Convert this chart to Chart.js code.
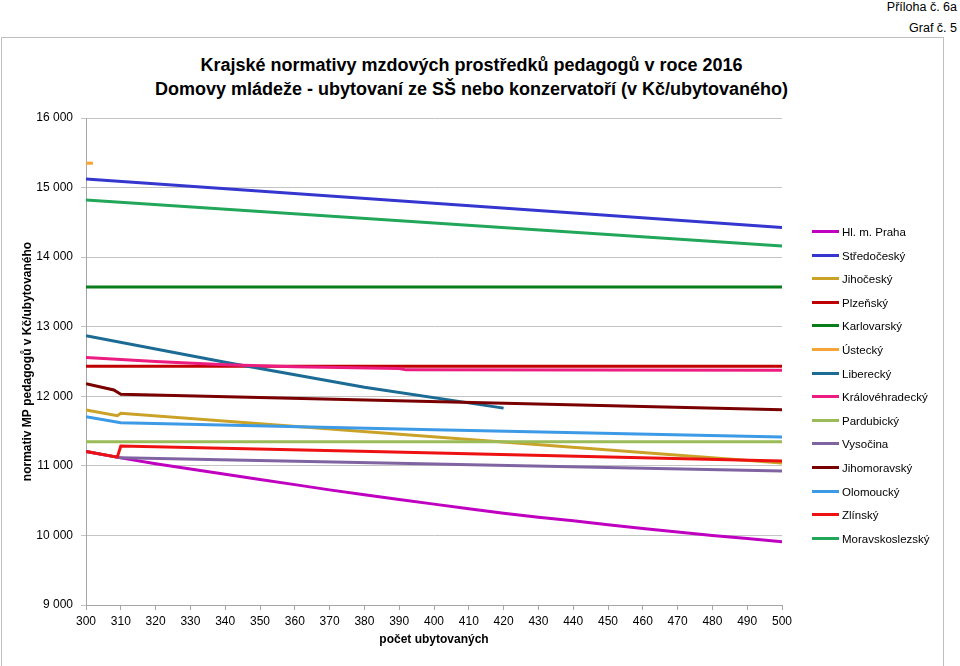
<!DOCTYPE html>
<html>
<head>
<meta charset="utf-8">
<script src="https://cdn.jsdelivr.net/npm/chart.js@4.4.1/dist/chart.umd.min.js"></script>
<style>
  body { margin: 0; width: 960px; height: 666px; overflow: hidden; background: #fff; position: relative;
         font-family: 'Liberation Sans', sans-serif; color: #000; }
  #box { position: absolute; left: 1px; top: 37px; width: 941px; height: 640px; border: 1px solid #bfbfbf; }
  #chart { position: absolute; left: 0; top: 0; }
  .note { position: absolute; right: 3px; font-size: 12.5px; }
  #title { position: absolute; left: 0; width: 943px; top: 53px; text-align: center; font-weight: bold;
           font-size: 18px; line-height: 24px; }
  #legend { position: absolute; left: 812px; top: 0; }
  .item { position: absolute; left: 0; width: 140px; height: 16px; font-size: 11.5px; line-height: 16px; white-space: nowrap; }
  .item i { position: absolute; left: 0; top: 6px; width: 27px; height: 3px; }
  .item span { position: absolute; left: 30px; top: 0; }
</style>
</head>
<body>
<div id="box"></div>
<div class="note" style="top:0px">Příloha č. 6a</div>
<div class="note" style="top:21px">Graf č. 5</div>
<div id="title">Krajské normativy mzdových prostředků pedagogů v roce 2016<br>Domovy mládeže - ubytovaní ze SŠ nebo konzervatoří (v Kč/ubytovaného)</div>
<canvas id="chart" width="960" height="666"></canvas>
<div id="legend"></div>
<script>
// počet ubytovaných / normativ (Kč)
const praha = [[300, 11205], [310, 11115], [320, 11030], [330, 10955], [340, 10880], [350, 10805], [360, 10730],
  [370, 10655], [380, 10585], [390, 10515], [400, 10450], [410, 10385], [420, 10320], [430, 10260], [440, 10210],
  [450, 10155], [460, 10100], [470, 10050], [480, 10000], [490, 9955], [500, 9910]];
const stredocesky = [[300, 15125], [400, 14775], [500, 14425]];
const jihocesky = [[300, 11805], [309, 11720], [310, 11755], [500, 11040]];
const plzensky = [[300, 12430], [500, 12430]];
const karlovarsky = [[300, 13572], [500, 13572]];
const ustecky = [[300, 15350], [302, 15350]];
const liberecky = [[300, 12870], [340, 12490], [380, 12130], [420, 11830]];
const kralovehradecky = [[300, 12557], [320, 12500], [340, 12455], [360, 12425], [390, 12400], [392, 12380], [500, 12375]];
const pardubicky = [[300, 11345], [500, 11345]];
const vysocina = [[300, 11205], [310, 11115], [400, 11025], [500, 10925]];
const jihomoravsky = [[300, 12180], [308, 12090], [310, 12030], [500, 11805]];
const olomoucky = [[300, 11705], [310, 11620], [400, 11520], [500, 11415]];
const zlinsky = [[300, 11205], [309, 11125], [310, 11285], [382, 11205], [500, 11070]];
const moravskoslezsky = [[300, 14820], [500, 14160]];

const kraje = ['Hl. m. Praha', 'Středočeský', 'Jihočeský', 'Plzeňský', 'Karlovarský', 'Ústecký', 'Liberecký',
  'Královéhradecký', 'Pardubický', 'Vysočina', 'Jihomoravský', 'Olomoucký', 'Zlínský', 'Moravskoslezský'];
const serie = [praha, stredocesky, jihocesky, plzensky, karlovarsky, ustecky, liberecky,
  kralovehradecky, pardubicky, vysocina, jihomoravsky, olomoucky, zlinsky, moravskoslezsky];
const barvy = ['#C000C0', '#3535D0', '#C9A227', '#C00000', '#0A7D1A', '#F4A535', '#1B6B94',
  '#EC1C80', '#9BBB59', '#8064A2', '#7A0000', '#3D9AE6', '#EE1111', '#21A65A'];

const yTicks = ['9 000', '10 000', '11 000', '12 000', '13 000', '14 000', '15 000', '16 000'];

const datasets = kraje.map((k, i) => ({
  label: k,
  data: serie[i].map(p => ({ x: p[0], y: p[1] })),
  borderColor: barvy[i],
  backgroundColor: barvy[i],
  borderWidth: 3,
  pointRadius: 0,
  tension: 0,
  order: kraje.length - i
}));

const font = "'Liberation Sans', sans-serif";

new Chart(document.getElementById('chart'), {
  type: 'line',
  data: { datasets: datasets },
  options: {
    responsive: false,
    animation: false,
    layout: { padding: { top: 118, right: 178, left: 0, bottom: 0 } },
    plugins: { legend: { display: false }, tooltip: { enabled: false } },
    scales: {
      x: {
        type: 'linear', min: 300, max: 500,
        ticks: { stepSize: 10, color: '#000', font: { family: font, size: 12 }, padding: 4, maxRotation: 0, autoSkip: false },
        grid: { drawOnChartArea: false, color: '#a6a6a6', tickLength: 5 },
        border: { color: '#a6a6a6' },
        title: { display: true, text: 'počet ubytovaných', color: '#000', font: { family: font, size: 12, weight: 'bold' }, padding: { top: 0, bottom: 19 } },
        afterFit: s => { s.height = 61; }
      },
      y: {
        min: 9000, max: 16000,
        ticks: { stepSize: 1000, color: '#000', font: { family: font, size: 12 }, padding: 8,
                 callback: (v) => yTicks[(v - 9000) / 1000] },
        grid: { color: '#c4c4c4', tickLength: 5 },
        border: { color: '#a6a6a6' },
        title: { display: true, text: 'normativ MP pedagogů v Kč/ubytovaného', color: '#000', font: { family: font, size: 12, weight: 'bold' }, padding: { top: 20, bottom: 0 } },
        afterFit: s => { s.width = 86; }
      }
    }
  }
});

const legend = document.getElementById('legend');
kraje.forEach((k, i) => {
  const d = document.createElement('div');
  d.className = 'item';
  d.style.top = (232 + i * 23.6 - 8) + 'px';
  d.innerHTML = '<i style="background:' + barvy[i] + '"></i><span>' + k + '</span>';
  legend.appendChild(d);
});
</script>
</body>
</html>
